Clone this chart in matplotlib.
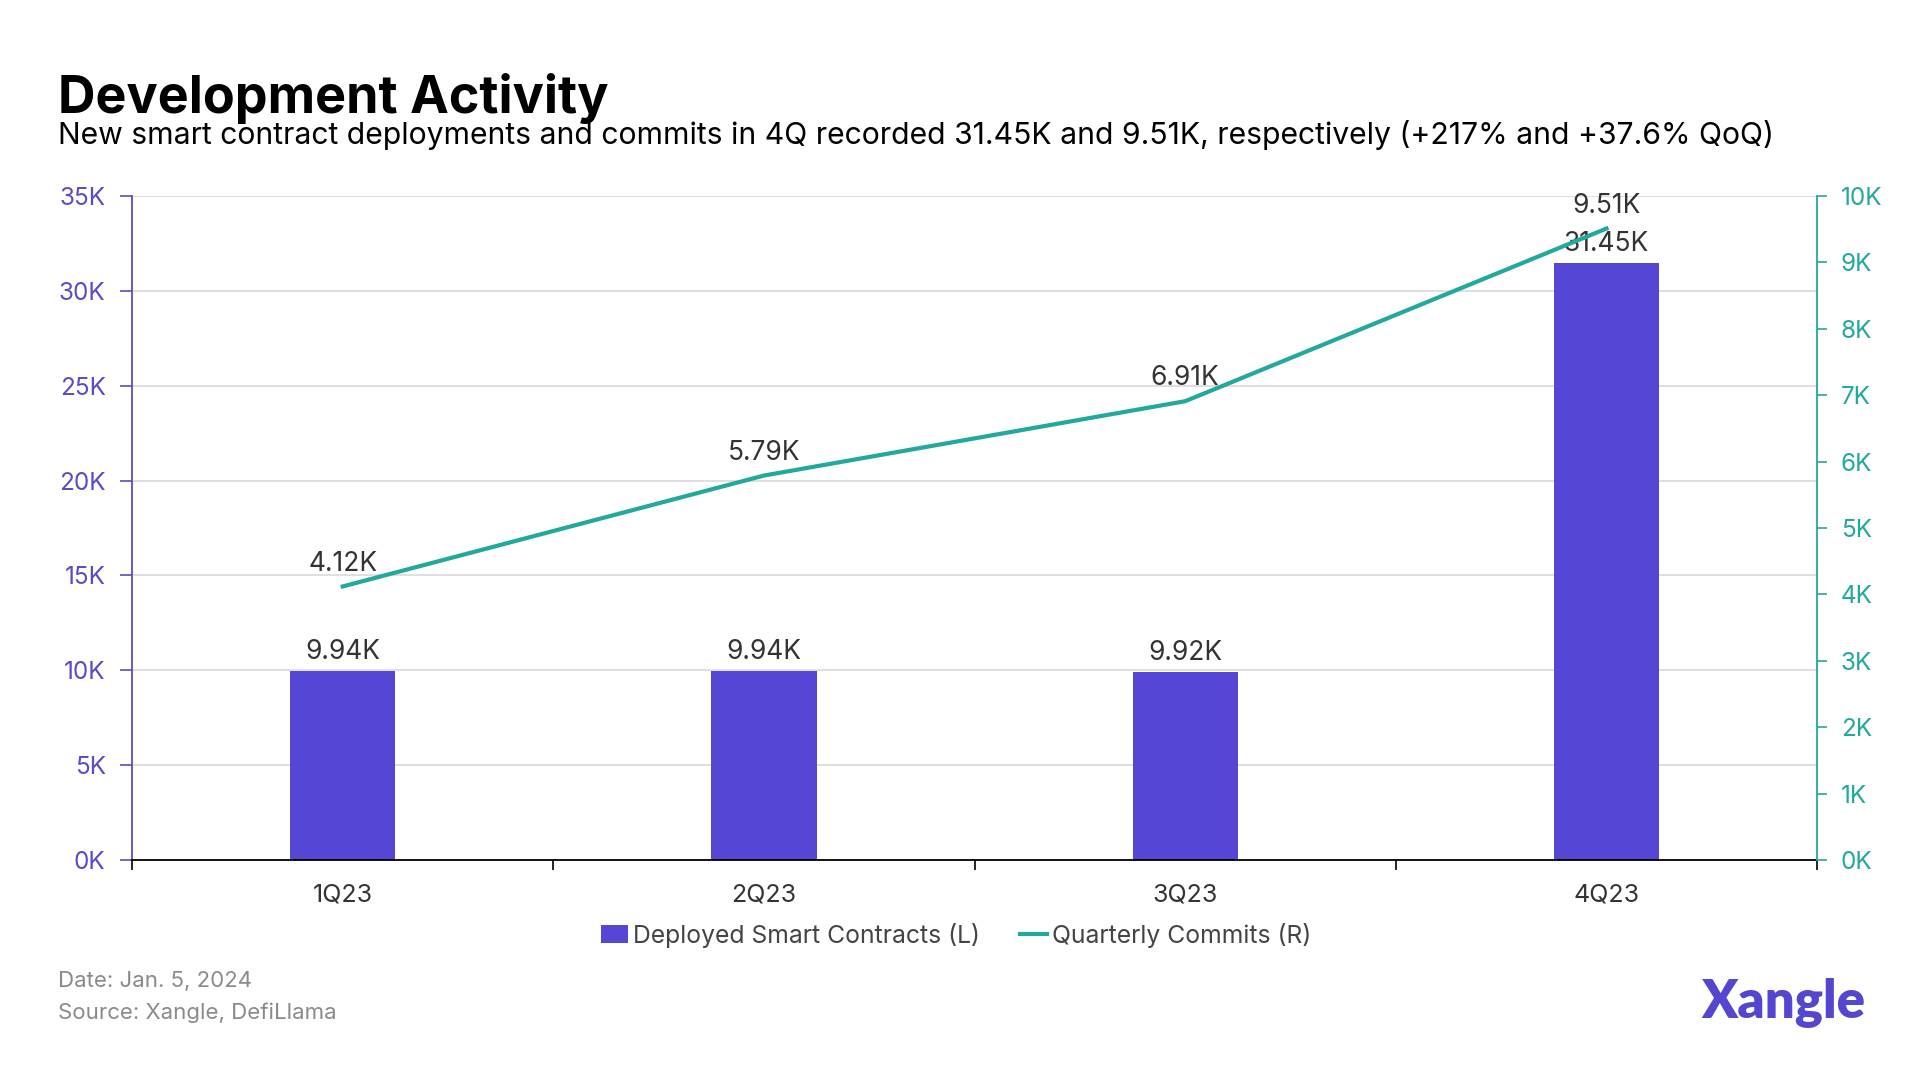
import matplotlib
matplotlib.use("Agg")
import matplotlib.pyplot as plt
from matplotlib.lines import Line2D
from matplotlib.patches import Patch
from matplotlib.ticker import FuncFormatter, MultipleLocator, FixedLocator

plt.rcParams['font.family'] = ['Inter', 'DejaVu Sans']

quarters = ["1Q23", "2Q23", "3Q23", "4Q23"]
contracts_k = [9.94, 9.94, 9.92, 31.45]
commits_k = [4.12, 5.79, 6.91, 9.51]
contract_labels = ["9.94K", "9.94K", "9.92K", "31.45K"]
commit_labels = ["4.12K", "5.79K", "6.91K", "9.51K"]

PURPLE = "#5546d6"
PURPLE_TXT = "#5a4cc4"
TEAL = "#22a89c"
TXT = "#333333"

fig = plt.figure(figsize=(19.2, 10.8), dpi=100)
ax = fig.add_axes([0.0688, 0.2037, 0.8776, 0.6148])
ax2 = ax.twinx()

x = list(range(len(quarters)))
ax.bar(x, contracts_k, width=0.25, color=PURPLE, zorder=2)
ax.set_xlim(-0.5, 3.5)
ax.set_ylim(0, 35)
ax.yaxis.set_major_locator(MultipleLocator(5))
ax.yaxis.set_major_formatter(FuncFormatter(lambda v, p: f"{int(round(v))}K"))
ax.grid(axis='y', color='#d9d9d9', linewidth=1.2, zorder=0)
ax.set_axisbelow(True)

ax.set_xticks(x)
ax.set_xticklabels(quarters)
ax.tick_params(axis='x', which='major', length=0, pad=17, labelsize=18, labelcolor=TXT)
ax.xaxis.set_minor_locator(FixedLocator([-0.5, 0.5, 1.5, 2.5, 3.5]))
ax.tick_params(axis='x', which='minor', length=7, width=1.2, color='black', direction='out')

ax.tick_params(axis='y', length=9, width=1.2, color=PURPLE_TXT, labelcolor=PURPLE_TXT,
               labelsize=17.5, pad=10)
ax.spines['left'].set_color(PURPLE_TXT)
ax.spines['left'].set_linewidth(1.3)
ax.spines['bottom'].set_color('black')
ax.spines['bottom'].set_linewidth(1.3)
ax.spines['top'].set_visible(False)
ax.spines['right'].set_visible(False)

for xi, v, lab in zip(x, contracts_k, contract_labels):
    ax.annotate(lab, (xi, v), xytext=(0, 4.5), textcoords='offset points',
                ha='center', va='bottom', fontsize=19, color=TXT, zorder=5)

ax2.plot(x, commits_k, color=TEAL, linewidth=3, zorder=3)
ax2.set_ylim(0, 10)
ax2.yaxis.set_major_locator(MultipleLocator(1))
ax2.yaxis.set_major_formatter(FuncFormatter(lambda v, p: f"{int(round(v))}K"))
ax2.tick_params(axis='y', length=7, width=1.2, color=TEAL, labelcolor=TEAL,
                labelsize=17.5, pad=10)
ax2.spines['right'].set_color(TEAL)
ax2.spines['right'].set_linewidth(1.3)
for s in ['left', 'top', 'bottom']:
    ax2.spines[s].set_visible(False)

for xi, v, lab in zip(x, commits_k, commit_labels):
    ax2.annotate(lab, (xi, v), xytext=(0, 7), textcoords='offset points',
                 ha='center', va='bottom', fontsize=19, color=TXT, zorder=5)

handles = [Patch(facecolor=PURPLE, edgecolor='none'),
           Line2D([0], [0], color=TEAL, linewidth=3)]
fig.legend(handles, ["Deployed Smart Contracts (L)", "Quarterly Commits (R)"],
           loc='center', bbox_to_anchor=(0.498, 0.134), ncol=2, frameon=False,
           fontsize=17.8, labelcolor='#444444', handlelength=1.1, handletextpad=0.2,
           columnspacing=1.6)

fig.text(0.030, 0.895, "Development Activity", fontsize=37.5, fontweight='bold',
         color='black', va='baseline', ha='left')
fig.text(0.030, 0.867, "New smart contract deployments and commits in 4Q recorded 31.45K and 9.51K, respectively (+217% and +37.6% QoQ)",
         fontsize=21.7, color='black', va='baseline', ha='left')

fig.text(0.030, 0.086, "Date: Jan. 5, 2024", fontsize=16, color='#8a8a8a', va='baseline')
fig.text(0.030, 0.0565, "Source: Xangle, DefiLlama", fontsize=16, color='#8a8a8a', va='baseline')

fig.text(0.929, 0.057, "Xangle", fontsize=38, fontweight='heavy', color='#5546d0',
         ha='center', va='baseline', family=['Lato', 'DejaVu Sans'])

fig.savefig("out.png", dpi=100, facecolor='white')
